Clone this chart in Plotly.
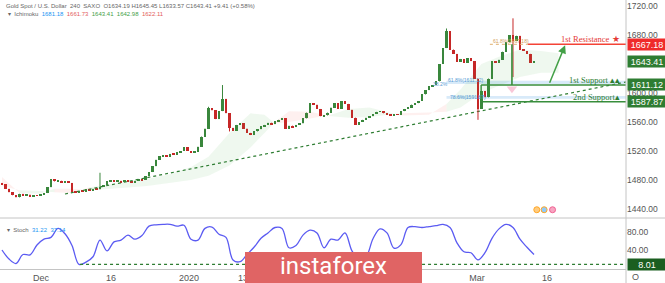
import plotly.graph_objects as go

# ---------------- data ----------------
closes = [1474, 1468, 1463, 1459, 1456, 1461, 1458, 1460, 1457, 1459,
          1458, 1460, 1462, 1470, 1481, 1478, 1479, 1477, 1478, 1476,
          1464, 1463, 1465, 1464, 1467, 1466, 1468, 1467, 1471, 1473,
          1478, 1480, 1478, 1479, 1477, 1480, 1478, 1476, 1479, 1481,
          1480, 1485, 1491, 1499, 1508, 1513, 1514, 1512, 1516, 1515,
          1518, 1520, 1525, 1520, 1518, 1519, 1526, 1540, 1551, 1579,
          1576, 1564, 1575, 1592, 1572, 1552, 1548, 1556, 1558, 1551,
          1545, 1542, 1547, 1550, 1554, 1556, 1559, 1557, 1561, 1563,
          1565, 1551, 1555, 1553, 1556, 1558, 1565, 1573, 1586, 1584,
          1578, 1568, 1569, 1573, 1580, 1586, 1578, 1589, 1585, 1577,
          1566, 1556, 1560, 1563, 1566, 1568, 1571, 1574, 1575, 1572,
          1571, 1569, 1571, 1570, 1575, 1578, 1580, 1584, 1586, 1589,
          1598, 1604, 1609, 1611, 1616, 1640, 1662, 1685, 1660, 1654,
          1643, 1647, 1642, 1648, 1644, 1620, 1578, 1603, 1594, 1620,
          1644, 1642, 1646, 1657, 1670, 1680, 1672, 1679, 1660, 1658,
          1654, 1642, 1643.41]
first_open = 1476
spike_high = {28: 1490, 59: 1581, 63: 1611, 127: 1689, 146: 1703}
spike_low = {65: 1547, 136: 1563, 146: 1622}

stoch = [40, 20, 10, 30, 29, 51, 64, 68, 88, 76,
         50, 8, 13, 25, 62, 38, 58, 62, 73, 64,
         72, 93, 96, 97, 97, 93, 95, 64, 62, 88,
         91, 75, 68, 18, 14, 30, 46, 66, 78, 90,
         88, 45, 50, 73, 84, 78, 45, 64, 62, 78,
         38, 20, 25, 65, 87, 78, 44, 52, 90, 92,
         90, 92, 94, 97, 90, 56, 36, 34, 18, 34,
         66, 87, 97, 90, 64, 46, 30]
stoch_step = 2
stoch_level = 8.01

cloud_bar = [0, 5, 11, 15, 20, 25, 31, 37, 42, 48, 54, 59, 65, 71, 75, 78,
             82, 88, 94, 99, 105, 111, 114, 122, 127, 131, 137, 142, 148, 154, 159]
span_a = [1472, 1466, 1465, 1463, 1462, 1470, 1474, 1478, 1482, 1488, 1498,
          1512, 1545, 1572, 1570, 1558, 1560, 1565, 1570, 1578, 1580, 1572,
          1569, 1570, 1585, 1605, 1640, 1650, 1660, 1658, 1655]
span_b = [1484, 1462, 1461, 1468, 1468, 1466, 1468, 1470, 1472, 1476, 1480,
          1486, 1500, 1525, 1545, 1560, 1575, 1574, 1568, 1566, 1567, 1570,
          1572, 1573, 1574, 1580, 1600, 1610, 1622, 1628, 1628]

tick_bars = [11.14, 31.14, 53.43, 68.86, 135.7, 155.7]
tick_text = ['Dec', '16', '2020', '13', 'Mar', '16']
price_ticks = [1440, 1480, 1520, 1560, 1600, 1680, 1720]
stoch_ticks = [40, 80]

resistance1 = 1667.18
support1 = 1611.12
support2 = 1587.87
last_price = 1643.41
trend_bars = [18, 178.3]
trend_prices = [1460.7, 1615.2]

# ---------------- layout constants ----------------
W, H = 665, 283
XR = [-0.57, 178.29]
PLOT_R = 626 / W
Y_MAIN = [1427.6, 1728.3]
Y_STO = [-2.2, 111.1]
SEP = 1 - 218 / H
BOT = (H - 269) / H
GREEN = '#2e7d32'
RED = '#ef2b2b'
UP_C = '#3a873d'
DN_C = '#c62828'
FONT = 'Liberation Sans'

bars = list(range(len(closes)))
opens = [first_open] + closes[:-1]
highs = [max(o, c) for o, c in zip(opens, closes)]
lows = [min(o, c) for o, c in zip(opens, closes)]
for k, v in spike_high.items():
    highs[k] = v
for k, v in spike_low.items():
    lows[k] = v

fig = go.Figure()

# Ichimoku cloud segments
runs = []
cur = None
for i in range(len(cloud_bar)):
    up = span_a[i] >= span_b[i]
    if cur is None or cur[0] != up:
        if cur is not None:
            cur[1].append(i)
        cur = (up, [i])
        runs.append(cur)
    else:
        cur[1].append(i)
for up, idx in runs:
    xs = [cloud_bar[j] for j in idx]
    ya = [span_a[j] for j in idx]
    yb = [span_b[j] for j in idx]
    fig.add_trace(go.Scatter(
        x=xs + xs[::-1], y=ya + yb[::-1], fill='toself', mode='lines',
        line=dict(width=0),
        fillcolor='rgba(76,175,80,0.09)' if up else 'rgba(244,67,54,0.08)',
        hoverinfo='skip', showlegend=False))

# trend line
fig.add_trace(go.Scatter(x=trend_bars, y=trend_prices, mode='lines',
                         line=dict(color='#2e7d32', width=1.2, dash='dot'),
                         hoverinfo='skip', showlegend=False))

# candles: wicks + bodies
for is_up, col in ((True, UP_C), (False, DN_C)):
    wx, wy = [], []
    for i in bars:
        if (closes[i] >= opens[i]) == is_up:
            wx += [i, i, None]
            wy += [lows[i], highs[i], None]
    fig.add_trace(go.Scatter(x=wx, y=wy, mode='lines', line=dict(color=col, width=1),
                             hoverinfo='skip', showlegend=False))
body_base = [min(o, c) for o, c in zip(opens, closes)]
body_h = [max(abs(c - o), 0.8) for o, c in zip(opens, closes)]
body_col = [UP_C if c >= o else DN_C for o, c in zip(opens, closes)]
fig.add_trace(go.Bar(x=bars, y=body_h, base=body_base, width=0.62,
                     marker=dict(color=body_col, line=dict(width=0)),
                     hoverinfo='skip', showlegend=False))

# stochastic
stoch_bars = [i * stoch_step for i in range(len(stoch))]
fig.add_trace(go.Scatter(x=stoch_bars, y=stoch, yaxis='y2', mode='lines',
                         line=dict(color='#5b5bf2', width=1.3, shape='spline'),
                         hoverinfo='skip', showlegend=False))
fig.add_trace(go.Scatter(x=[22.3, XR[1]], y=[stoch_level, stoch_level], yaxis='y2',
                         mode='lines', line=dict(color='#2e7d32', width=1.2, dash='dot'),
                         hoverinfo='skip', showlegend=False))

shapes = []
# fib bands (light blue dotted zones)
shapes.append(dict(type='rect', xref='x', yref='y', x0=127, x1=XR[1], y0=1612.5, y1=1617,
                   fillcolor='rgba(100,170,230,0.25)', line=dict(width=0), layer='below'))
shapes.append(dict(type='rect', xref='x', yref='y', x0=127, x1=XR[1], y0=1592, y1=1596,
                   fillcolor='rgba(100,170,230,0.25)', line=dict(width=0), layer='below'))
# fib 61.8 line near resistance
shapes.append(dict(type='line', xref='x', yref='y', x0=139.4, x1=150.3, y0=resistance1, y1=resistance1,
                   line=dict(color='#e0b070', width=1, dash='dot')))
# resistance
shapes.append(dict(type='line', xref='x', yref='y', x0=150.3, x1=XR[1], y0=resistance1, y1=resistance1,
                   line=dict(color='#f44336', width=1.5)))
# supports
shapes.append(dict(type='line', xref='x', yref='y', x0=136.9, x1=XR[1], y0=support1, y1=support1,
                   line=dict(color='#388e3c', width=1.6)))
shapes.append(dict(type='line', xref='x', yref='y', x0=137.4, x1=XR[1], y0=support2, y1=support2,
                   line=dict(color='#388e3c', width=1.6)))
shapes.append(dict(type='line', xref='x', yref='y', x0=136.9, x1=136.9, y0=support2, y1=support1,
                   line=dict(color='#388e3c', width=1.4)))
shapes.append(dict(type='line', xref='x', yref='y', x0=145.7, x1=145.7, y0=support1, y1=resistance1,
                   line=dict(color='#388e3c', width=1.6)))
# pane separators / axis lines
shapes.append(dict(type='line', xref='paper', yref='paper', x0=0, x1=1, y0=SEP, y1=SEP,
                   line=dict(color='#c4c4c4', width=1)))
shapes.append(dict(type='line', xref='paper', yref='paper', x0=PLOT_R, x1=PLOT_R, y0=0, y1=1,
                   line=dict(color='#c4c4c4', width=1)))
# watermark
shapes.append(dict(type='rect', xref='paper', yref='paper', x0=245 / W, x1=422 / W,
                   y0=-0.01, y1=(H - 252) / H, fillcolor='#e06464', line=dict(width=0),
                   layer='above'))

ann = []
small = dict(family=FONT, size=6, color='#666')
ann.append(dict(xref='paper', yref='paper', x=4 / W, y=1 - 1 / H, xanchor='left', yanchor='top',
                showarrow=False, font=small,
                text='Gold Spot / U.S. Dollar  240  SAXO  O1634.19 H1645.45 L1633.57 C1643.41 +9.41 (+0.58%)'))
ann.append(dict(xref='paper', yref='paper', x=6 / W, y=1 - 9 / H, xanchor='left', yanchor='top',
                showarrow=False, font=small,
                text="▾  Ichimoku  <span style='color:#2196f3'>1681.18</span>  "
                     "<span style='color:#e35d5d'>1661.73</span>  "
                     "<span style='color:#43a047'>1643.41</span>  "
                     "<span style='color:#43a047'>1642.98</span>  "
                     "<span style='color:#e35d5d'>1622.11</span>"))
ann.append(dict(xref='paper', yref='paper', x=5 / W, y=(H - 225) / H, xanchor='left', yanchor='top',
                showarrow=False, font=small,
                text="▾  Stoch  <span style='color:#2196f3'>31.22</span>  "
                     "<span style='color:#2196f3'>37.14</span>"))

# level labels on the chart
serif = 'Liberation Serif'
ann.append(dict(xref='paper', yref='y', x=622 / W, y=resistance1 + 7, xanchor='right', yanchor='middle',
                showarrow=False, text='1st Resistance ★',
                font=dict(family=serif, size=8.5, color='#e53935')))
ann.append(dict(xref='paper', yref='y', x=622 / W, y=support1 + 7, xanchor='right', yanchor='middle',
                showarrow=False, text='1st Support ▴▴',
                font=dict(family=serif, size=8.5, color='#2e7d32')))
ann.append(dict(xref='paper', yref='y', x=622 / W, y=support2 + 7, xanchor='right', yanchor='middle',
                showarrow=False, text='2nd Support▴',
                font=dict(family=serif, size=8.5, color='#2e7d32')))
tiny = dict(family=FONT, size=5)
ann.append(dict(xref='x', yref='y', x=139.6, y=resistance1 + 4, xanchor='left', showarrow=False,
                text='61.8%(1667.18)', font=dict(tiny, color='#d4a05a')))
ann.append(dict(xref='x', yref='y', x=126.8, y=1618, xanchor='left', showarrow=False,
                text='61.8%(1611.12)', font=dict(tiny, color='#5a9bd5')))
ann.append(dict(xref='x', yref='y', x=122.5, y=1612, xanchor='left', showarrow=False,
                text='38.2%', font=dict(tiny, color='#5a9bd5')))
ann.append(dict(xref='x', yref='y', x=127.5, y=1595, xanchor='left', showarrow=False,
                text='78.6%(1591.87)', font=dict(tiny, color='#5a9bd5')))

# green arrow
ann.append(dict(xref='x', yref='y', axref='x', ayref='y', x=160.9, y=1666, ax=156.3, ay=1612,
                showarrow=True, arrowhead=2, arrowsize=1.1, arrowwidth=1.5, arrowcolor='#43a047', text=''))

# pink marker triangle
fig.add_trace(go.Scatter(x=[145.7], y=[1606], mode='markers',
                         marker=dict(symbol='triangle-down', size=9, color='rgba(244,143,177,0.5)'),
                         hoverinfo='skip', showlegend=False))
# event icons
fig.add_trace(go.Scatter(x=[152.8, 154.9, 157.3], y=[1439, 1439, 1439], mode='markers',
                         marker=dict(size=6, color=['#ffcc80', '#90caf9', '#f8a5c2'],
                                     line=dict(width=1, color=['#ffa726', '#ffa726', '#f06292'])),
                         hoverinfo='skip', showlegend=False))

# price boxes
def box(yref, yv, txt, color):
    return dict(xref='paper', yref=yref, x=627 / W, y=yv, xanchor='left', yanchor='middle',
                showarrow=False, text=txt, bgcolor=color, width=36, height=9, borderpad=1,
                font=dict(family=FONT, size=9, color='white'))

ann.append(box('y', resistance1, '1667.18', RED))
ann.append(box('y', last_price, '1643.41', GREEN))
ann.append(box('y', support1, '1611.12', GREEN))
ann.append(box('y', support2, '1587.87', GREEN))
ann.append(box('y2', stoch_level, '8.01', '#1b5e20'))

ann.append(dict(xref='paper', yref='paper', x=641 / W, y=(H - 277) / H, yanchor='middle',
                showarrow=False, text='O', font=dict(family=FONT, size=9, color='#555')))

# watermark text
ann.append(dict(xref='paper', yref='paper', x=333 / W, y=(H - 266) / H, xanchor='center',
                yanchor='middle', showarrow=False,
                text='instaforex', font=dict(family='Roboto', size=24, color='white')))

fig.update_layout(
    width=W, height=H, margin=dict(l=0, r=0, t=0, b=0),
    paper_bgcolor='white', plot_bgcolor='white', showlegend=False, hovermode=False,
    bargap=0,
    xaxis=dict(domain=[0, PLOT_R], range=XR, anchor='y2', showgrid=False, zeroline=False,
               tickvals=tick_bars, ticktext=tick_text,
               tickfont=dict(family=FONT, size=9, color='#555'), showline=True,
               linecolor='#c4c4c4', linewidth=1, ticks=''),
    yaxis=dict(domain=[SEP, 1], range=Y_MAIN, side='right', anchor='x', showgrid=False,
               zeroline=False, tickvals=price_ticks,
               tickformat='.2f', tickfont=dict(family=FONT, size=8.5, color='#555'), ticks=''),
    yaxis2=dict(domain=[BOT, SEP], range=Y_STO, side='right', anchor='x', showgrid=False,
                zeroline=False, tickvals=stoch_ticks, tickformat='.2f',
                tickfont=dict(family=FONT, size=8.5, color='#555'), ticks=''),
    shapes=shapes, annotations=ann,
)

fig.write_html('out.html')
